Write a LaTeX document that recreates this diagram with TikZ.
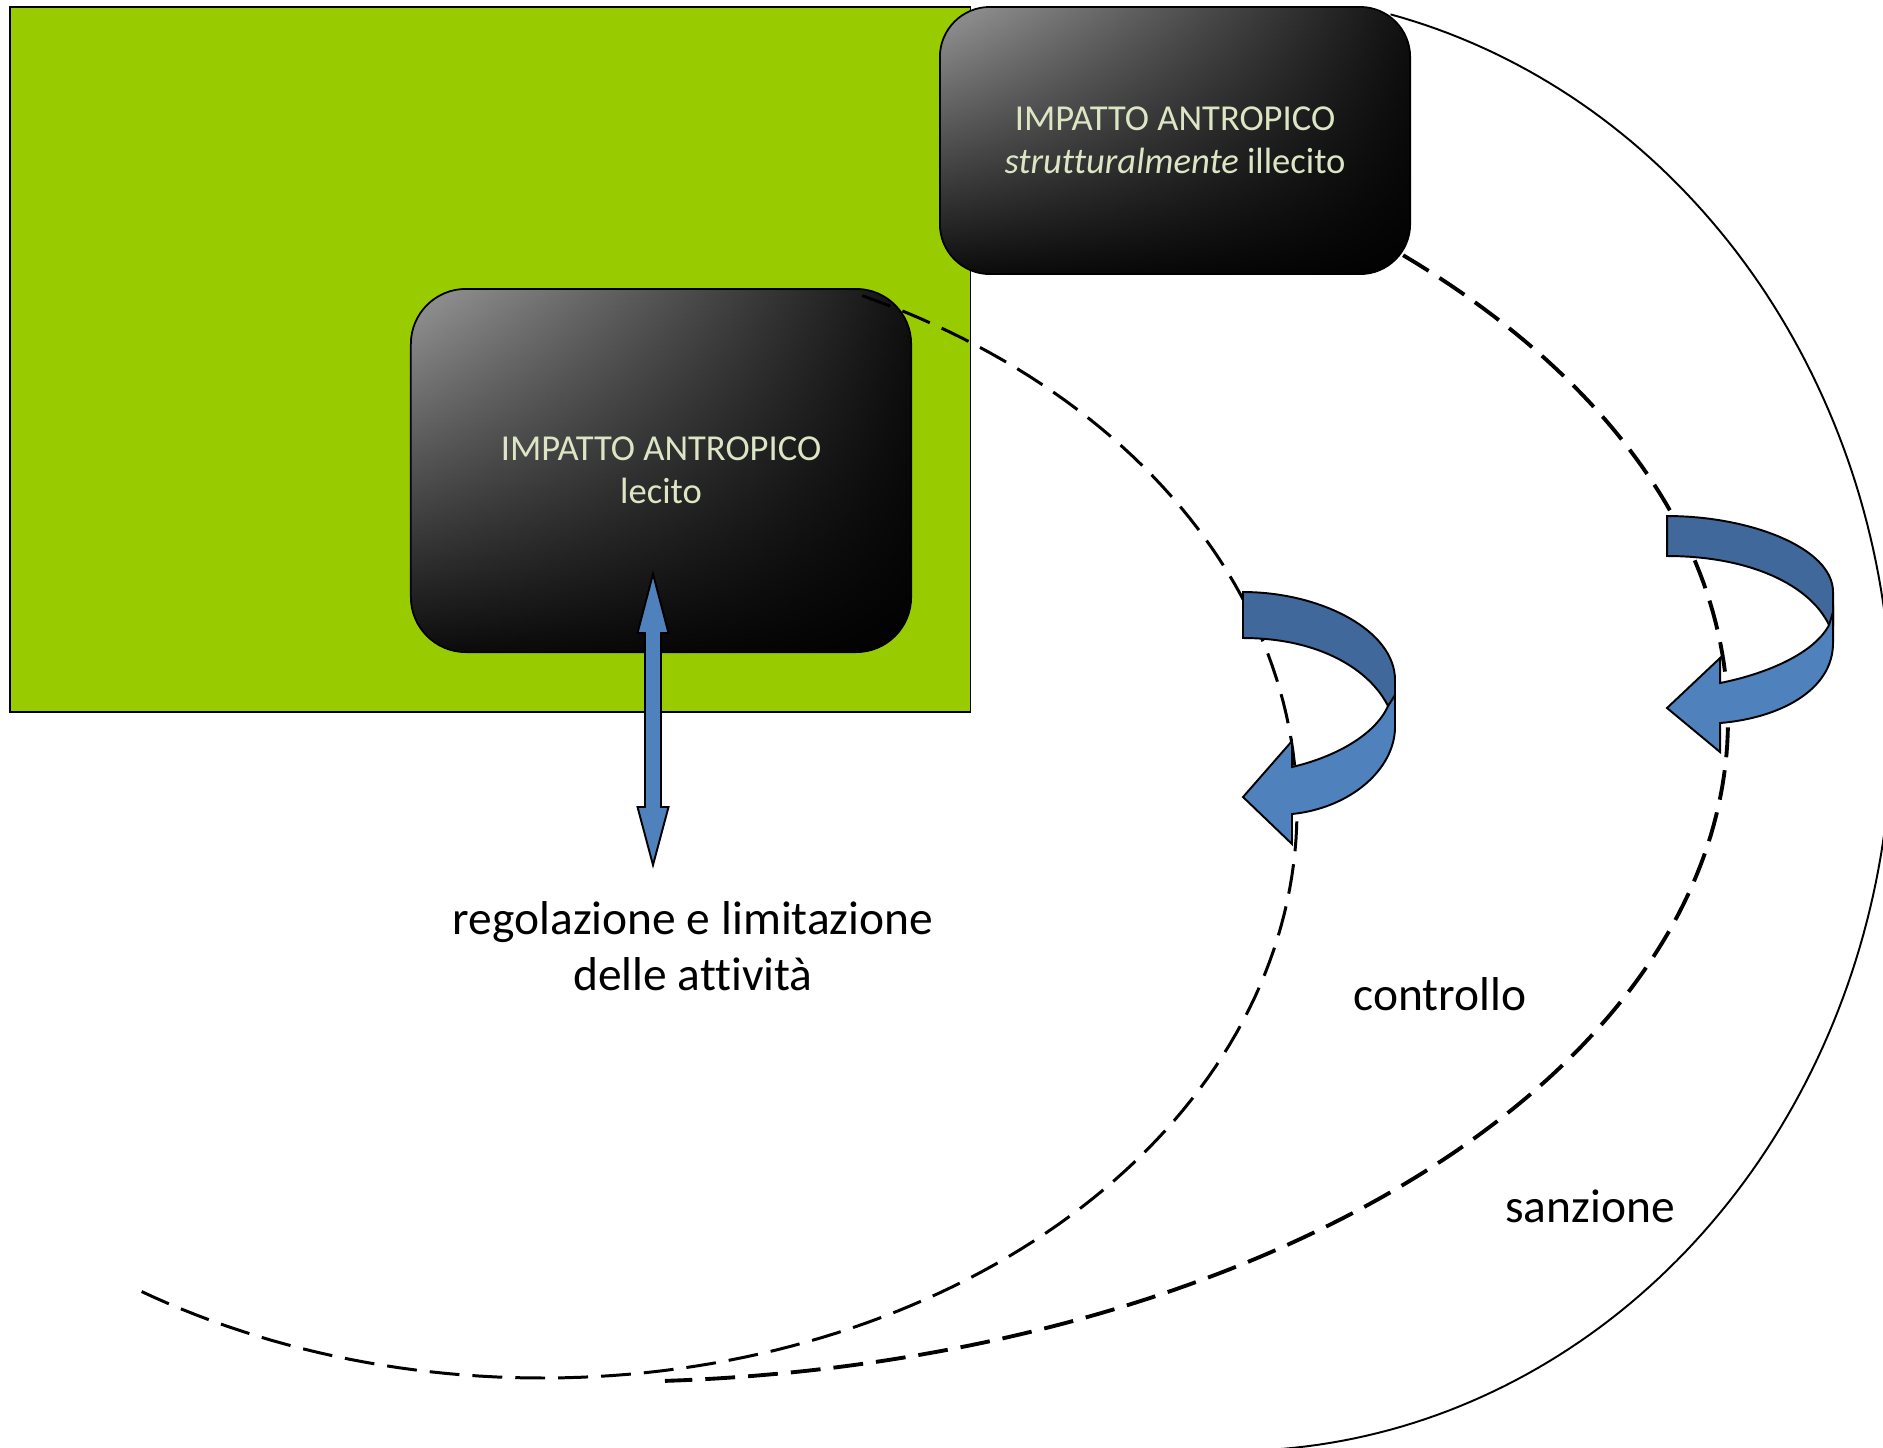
\documentclass[tikz,border=0pt]{standalone}
\usepackage{fontspec}
\setmainfont{Carlito}[Ligatures={NoCommon}]
\usetikzlibrary{fadings}
\definecolor{lime}{HTML}{99CC00}
\definecolor{boxtext}{HTML}{DCE6C4}
\definecolor{bandD}{HTML}{41689A}
\definecolor{bandL}{HTML}{4F81BD}
\definecolor{g1}{HTML}{989898}
\definecolor{g2}{HTML}{727272}
\definecolor{g3}{HTML}{101010}
\tikzfading[name=boxfade, top color=transparent!100, middle color=transparent!72, bottom color=transparent!8]
\begin{document}
\begin{tikzpicture}[x=0.01cm,y=-0.01cm,
  darkbox/.style={draw=black, line width=0.5pt, rounded corners=#1, inner sep=0pt,
    left color=g1, middle color=g2, right color=g3, align=center, text=boxtext,
    font=\fontsize{10.4}{12.2}\selectfont,
    path picture={\fill[black, path fading=boxfade] (path picture bounding box.south west) rectangle (path picture bounding box.north east);}},
  lbl/.style={align=center, inner sep=0pt, font=\fontsize{13.5}{16}\selectfont},
  dashline/.style={dash pattern=on 8.5pt off 3.7pt},
  bandback/.style={fill=bandD, draw=black, line width=0.55pt, line join=miter},
  bandfront/.style={fill=bandL, draw=black, line width=0.55pt, line join=miter},
  blockarrow/.style={fill=bandL, draw=black, line width=0.55pt}]
\useasboundingbox (0,0) rectangle (1883,1447);
\begin{scope}
\clip (0,0) rectangle (1883,1447);

% green area
\node[draw=black, line width=0.45pt, fill=lime, inner sep=0pt, minimum width=9.6cm, minimum height=7.05cm] (green) at (490,359.5) {};

% boxes
\node[darkbox=0.5cm, minimum width=4.7cm, minimum height=2.67cm] (top) at (1175,140.5)
  {IMPATTO ANTROPICO\\\textit{strutturalmente} illecito};
\node[darkbox=0.55cm, minimum width=5.0cm, minimum height=3.63cm] (low) at (661,470.5)
  {IMPATTO ANTROPICO\\lecito};

% dashed curves
\draw[dashline, line width=0.85pt] plot[domain=-64.9:122.3, samples=150, variable=\t] ({542+755*cos(\t)},{810+568*sin(\t)});
\draw[dashline, line width=1.1pt] plot[domain=-44.6:86.7, samples=150, variable=\t] ({600+1128*cos(\t)},{720+662*sin(\t)});

% solid outer arc
\draw[line width=0.55pt] plot[domain=-76.1:92, samples=160, variable=\t] ({1232+660*cos(\t)},{722+729*sin(\t)});
\end{scope}

% curved arrow 1
\draw[bandback] (1243,592) .. controls (1320,592) and (1395,630) .. (1395,680) -- (1395,706) -- (1388,706) .. controls (1370,670) and (1320,638) .. (1243,638) -- cycle;
\draw[bandfront] (1292,767) .. controls (1335,757) and (1375,735) .. (1388,706) -- (1395,695) -- (1395,728) .. controls (1394,770) and (1350,808) .. (1292,814) -- (1292,844) -- (1243,797) -- (1292,741) -- cycle;

% curved arrow 2
\draw[bandback] (1667,516) .. controls (1750,516) and (1833,548) .. (1833,592) -- (1833,625) -- (1829,625) .. controls (1810,585) and (1750,556) .. (1667,556) -- cycle;
\draw[bandfront] (1720,683) .. controls (1770,673) and (1815,652) .. (1829,625) -- (1833,612) -- (1833,643) .. controls (1833,690) and (1780,718) .. (1720,723) -- (1720,752) -- (1667,708) -- (1720,658) -- cycle;

% double arrow
\coordinate (da1) at (653,574);
\coordinate (da2) at (653,865);
\draw[blockarrow] (da1) -- (668.5,633) -- (661,633) -- (661,807) -- (668.5,807) -- (da2) -- (637.5,807) -- (645,807) -- (645,633) -- (637.5,633) -- cycle;

% labels
\node[lbl] (reg) at (693,946) {regolazione e limitazione\\delle attività};
\node[lbl] (ctl) at (1440,994) {controllo};
\node[lbl] (san) at (1590,1206) {sanzione};
\end{tikzpicture}
\end{document}
